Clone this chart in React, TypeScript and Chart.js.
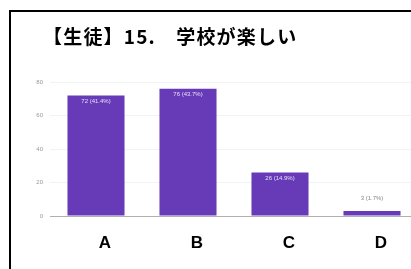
import React, { useEffect, useRef } from "react";
import { Chart, registerables } from "chart.js";

Chart.register(...registerables);

const categories = ["A", "B", "C", "D"];
const counts = [72, 76, 26, 3];
const valueLabels = ["72 (41.4%)", "76 (43.7%)", "26 (14.9%)", "3 (1.7%)"];
const yMax = 80;
const yStep = 20;
const titleText = "【生徒】15.\u3000学校が楽しい";

const barLabelPlugin = {
  id: "barLabels",
  afterDatasetsDraw(chart: any) {
    const ctx = chart.ctx;
    const meta = chart.getDatasetMeta(0);
    ctx.save();
    ctx.font = "6px 'Liberation Sans', Arial, sans-serif";
    ctx.textAlign = "center";
    ctx.textBaseline = "middle";
    meta.data.forEach((bar: any, i: number) => {
      const v = counts[i];
      if (v >= 10) {
        ctx.fillStyle = "#e8e0f8";
        ctx.fillText(valueLabels[i], bar.x, bar.y + 6);
      } else {
        ctx.fillStyle = "#888";
        ctx.fillText(valueLabels[i], bar.x, bar.y - 13);
      }
    });
    ctx.restore();
  },
};

export default function App() {
  const ref = useRef<HTMLCanvasElement | null>(null);
  useEffect(() => {
    if (!ref.current) return;
    const chart = new Chart(ref.current, {
      type: "bar",
      data: {
        labels: categories,
        datasets: [
          {
            data: counts,
            backgroundColor: "#673ab7",
            borderWidth: 0,
            categoryPercentage: 1,
            barPercentage: 0.62,
          },
        ],
      },
      options: {
        responsive: false,
        animation: false,
        layout: { padding: { left: 0, right: 0, top: 82, bottom: 0 } },
        plugins: {
          legend: { display: false },
          title: { display: false },
          tooltip: { enabled: false },
        },
        scales: {
          x: {
            grid: { display: false, drawTicks: false },
            border: { display: true, color: "#b0b0b0", width: 1 },
            ticks: {
              padding: 17,
              labelOffset: 9,
              color: "#000",
              font: { family: "'Liberation Sans', Arial, sans-serif", size: 17, weight: "bold" },
            },
            afterFit(scale: any) {
              scale.height = 53;
            },
          },
          y: {
            min: 0,
            max: yMax,
            grid: { color: "#f3f3f3", drawTicks: false },
            border: { display: false },
            ticks: {
              stepSize: yStep,
              padding: 7,
              color: "#999",
              font: { family: "'Liberation Sans', Arial, sans-serif", size: 6 },
            },
            afterFit(scale: any) {
              scale.width = 50;
            },
          },
        },
      },
      plugins: [barLabelPlugin],
    });
    return () => chart.destroy();
  }, []);

  return (
    <div
      style={{
        position: "fixed",
        left: 0,
        top: 0,
        width: 411,
        height: 269,
        overflow: "hidden",
        background: "#fff",
      }}
    >
      <canvas
        ref={ref}
        width={418}
        height={269}
        style={{ position: "absolute", left: 0, top: 0, width: 418, height: 269 }}
      />
      <div
        style={{
          position: "absolute",
          left: 43,
          top: 23,
          fontFamily: "'Noto Sans CJK JP', sans-serif",
          fontWeight: "bold",
          fontSize: 19,
          letterSpacing: 1.2,
          lineHeight: "26px",
          whiteSpace: "nowrap",
          color: "#000",
        }}
      >
        {titleText}
      </div>
      <div
        style={{
          position: "absolute",
          left: 9,
          top: 10,
          width: 402,
          height: 2,
          background: "#000",
          pointerEvents: "none",
        }}
      />
      <div
        style={{
          position: "absolute",
          left: 9,
          top: 10,
          width: 2,
          height: 259,
          background: "#000",
          pointerEvents: "none",
        }}
      />
    </div>
  );
}
